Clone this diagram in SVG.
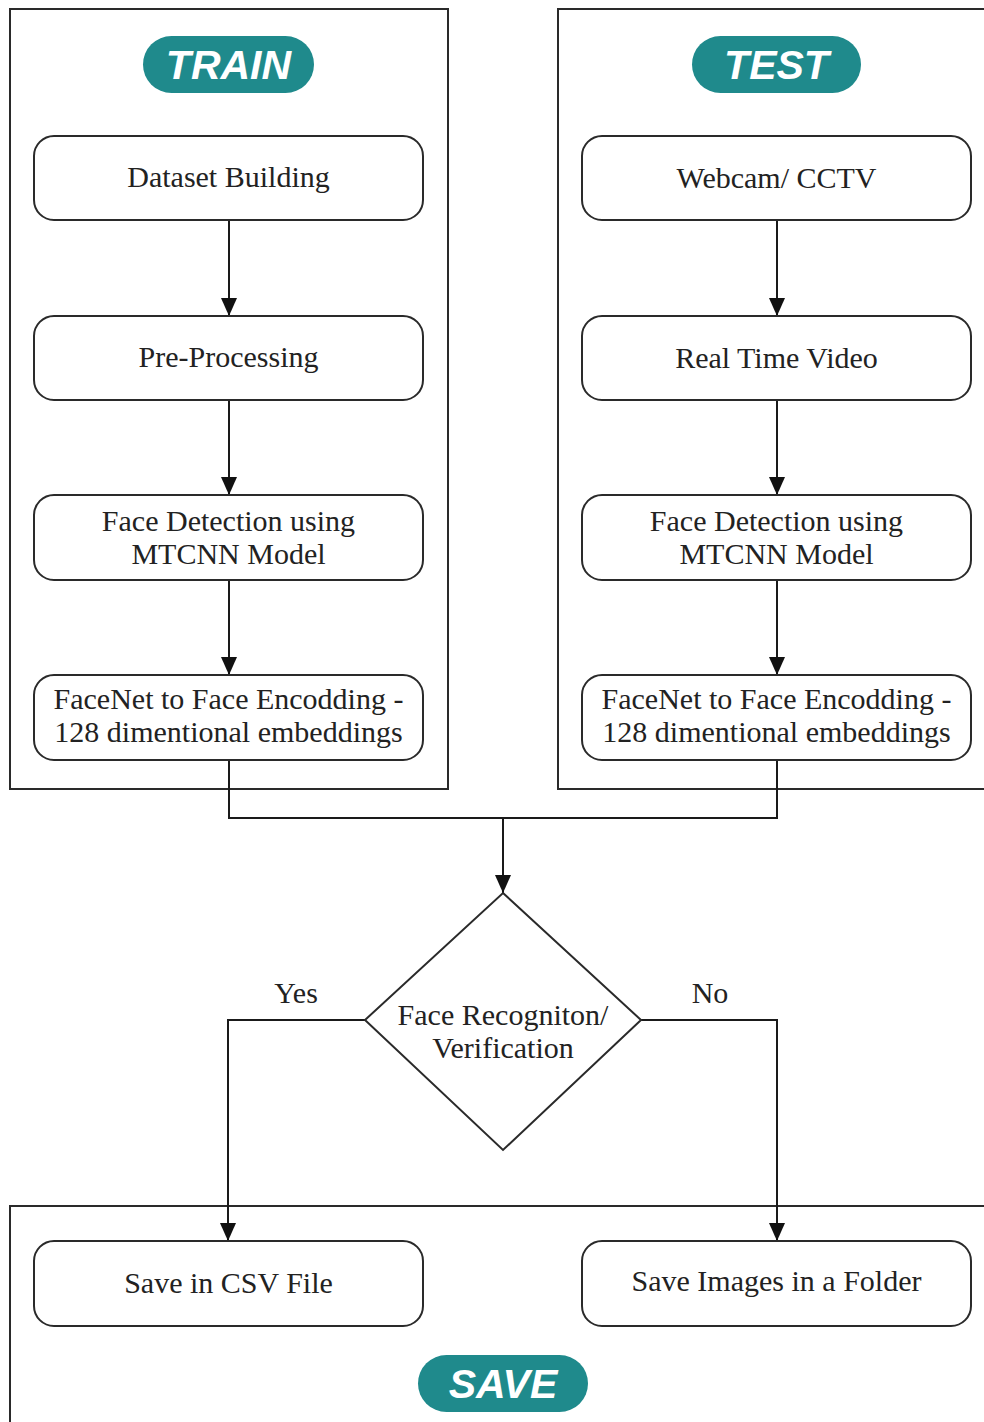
<svg xmlns="http://www.w3.org/2000/svg" width="984" height="1422" viewBox="0 0 984 1422">
<style>
.panel{fill:none;stroke:#2a2a2a;stroke-width:2}
.node{fill:#fff;stroke:#2a2a2a;stroke-width:2}
.pill{fill:#1f8a8c}
.pt{font-family:"Liberation Sans",Arial,sans-serif;font-weight:bold;font-style:italic;font-size:41px;fill:#fff;text-anchor:middle}
.t{font-family:"Liberation Serif","Times New Roman",serif;font-size:30px;fill:#222;text-anchor:middle}
.c{fill:none;stroke:#1a1a1a;stroke-width:2}
</style>
<defs>
<marker id="ah" viewBox="0 0 18 16" refX="18" refY="8" markerWidth="18" markerHeight="16" markerUnits="userSpaceOnUse" orient="auto"><path d="M0,0 L18,8 L0,16 Z" fill="#111"/></marker>
</defs>
<rect width="984" height="1422" fill="#fff"/>
<g id="panels">
<rect class="panel" x="10" y="9" width="438" height="780"/>
<rect class="panel" x="558" y="9" width="440" height="780"/>
<rect class="panel" x="10" y="1206" width="990" height="230"/>
</g>
<g id="train-label"><rect class="pill" x="143" y="36" width="171" height="57" rx="28.5"/><text class="pt" x="228.5" y="79">TRAIN</text></g>
<g id="test-label"><rect class="pill" x="692" y="36" width="169" height="57" rx="28.5"/><text class="pt" x="776.5" y="79">TEST</text></g>
<g id="save-label"><rect class="pill" x="418" y="1355" width="170" height="57" rx="28.5"/><text class="pt" x="503" y="1398">SAVE</text></g>
<g id="connectors">
<path class="c" d="M229,220 V316" marker-end="url(#ah)"/>
<path class="c" d="M229,400 V495" marker-end="url(#ah)"/>
<path class="c" d="M229,580 V675" marker-end="url(#ah)"/>
<path class="c" d="M777,220 V316" marker-end="url(#ah)"/>
<path class="c" d="M777,400 V495" marker-end="url(#ah)"/>
<path class="c" d="M777,580 V675" marker-end="url(#ah)"/>
<path class="c" d="M229,760 V818 H777 V760"/>
<path class="c" d="M503,818 V893" marker-end="url(#ah)"/>
<path class="c" d="M365,1020 H228 V1241" marker-end="url(#ah)"/>
<path class="c" d="M641,1020 H777 V1241" marker-end="url(#ah)"/>
<text class="t" x="296" y="1003">Yes</text>
<text class="t" x="710" y="1003">No</text>
</g>
<g id="dataset"><rect class="node" x="34" y="136" width="389" height="84" rx="20"/><text class="t" x="228.5" y="187">Dataset Building</text></g>
<g id="preproc"><rect class="node" x="34" y="316" width="389" height="84" rx="20"/><text class="t" x="228.5" y="367">Pre-Processing</text></g>
<g id="detect-train"><rect class="node" x="34" y="495" width="389" height="85" rx="20"/><text class="t" x="228.5" y="531">Face Detection using</text><text class="t" x="228.5" y="564">MTCNN Model</text></g>
<g id="facenet-train"><rect class="node" x="34" y="675" width="389" height="85" rx="20"/><text class="t" x="228.5" y="709">FaceNet to Face Encodding -</text><text class="t" x="228.5" y="742">128 dimentional embeddings</text></g>
<g id="webcam"><rect class="node" x="582" y="136" width="389" height="84" rx="20"/><text class="t" x="776.5" y="188">Webcam/ CCTV</text></g>
<g id="realtime"><rect class="node" x="582" y="316" width="389" height="84" rx="20"/><text class="t" x="776.5" y="368">Real Time Video</text></g>
<g id="detect-test"><rect class="node" x="582" y="495" width="389" height="85" rx="20"/><text class="t" x="776.5" y="531">Face Detection using</text><text class="t" x="776.5" y="564">MTCNN Model</text></g>
<g id="facenet-test"><rect class="node" x="582" y="675" width="389" height="85" rx="20"/><text class="t" x="776.5" y="709">FaceNet to Face Encodding -</text><text class="t" x="776.5" y="742">128 dimentional embeddings</text></g>
<g id="decision"><path class="node" d="M503,893 L641,1020 L503,1150 L365,1020 Z"/><text class="t" x="503" y="1025">Face Recogniton/</text><text class="t" x="503" y="1058">Verification</text></g>
<g id="csv"><rect class="node" x="34" y="1241" width="389" height="85" rx="20"/><text class="t" x="228.5" y="1293">Save in CSV File</text></g>
<g id="folder"><rect class="node" x="582" y="1241" width="389" height="85" rx="20"/><text class="t" x="776.5" y="1291">Save Images in a Folder</text></g>
</svg>
